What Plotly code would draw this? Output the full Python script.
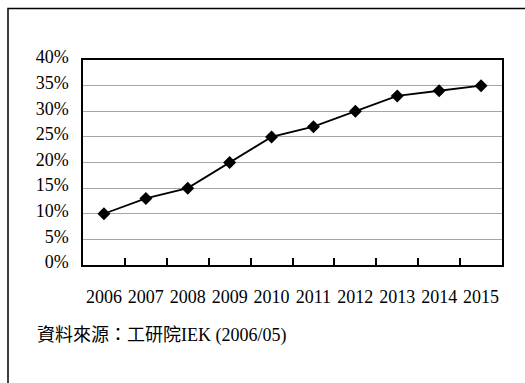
import plotly.graph_objects as go

years = ["2006", "2007", "2008", "2009", "2010", "2011", "2012", "2013", "2014", "2015"]
share = [0.10, 0.13, 0.15, 0.20, 0.25, 0.27, 0.30, 0.33, 0.34, 0.35]
source_text = "資料來源：工研院IEK (2006/05)"

W, H = 525, 383
L, R, T, B = 83, 23, 60, 118
pw, ph = W - L - R, H - T - B

def px_to_paper_x(px):
    return (px - L) / pw

def px_to_paper_y(py):
    return (H - B - py) / ph

fig = go.Figure()
fig.add_trace(go.Scatter(
    x=years, y=share, mode="lines+markers",
    line=dict(color="black", width=1.8),
    marker=dict(symbol="diamond", size=10, color="black"),
    cliponaxis=False,
))

serif = "Liberation Serif"
fig.update_layout(
    width=W, height=H,
    margin=dict(l=L, r=R, t=T, b=B, pad=0),
    paper_bgcolor="white", plot_bgcolor="white",
    showlegend=False,
    font=dict(family=serif, size=18, color="black"),
    xaxis=dict(
        type="category", range=[-0.5, len(years) - 0.5],
        tickson="boundaries", ticks="inside", ticklen=7, tickcolor="black", tickwidth=1.5,
        showgrid=False, showline=True, linecolor="black", linewidth=1.5, mirror=True,
        ticklabelstandoff=15, zeroline=False, tickangle=0,
        tickfont=dict(family=serif, size=18),
    ),
    yaxis=dict(
        range=[0, 0.4], dtick=0.05, tick0=0, tickformat=".0%",
        showgrid=True, gridcolor="#a6a6a6", gridwidth=1,
        showline=True, linecolor="black", linewidth=1.5, mirror=True,
        ticks="", ticklabelstandoff=9, ticklabelshift=-3, zeroline=False,
        tickfont=dict(family=serif, size=18),
    ),
)

# outer frame
fig.add_shape(type="rect", xref="paper", yref="paper",
              x0=px_to_paper_x(8), x1=px_to_paper_x(540),
              y0=px_to_paper_y(400), y1=px_to_paper_y(8.5),
              line=dict(color="black", width=1.5), fillcolor="rgba(0,0,0,0)", layer="below")

fig.add_annotation(
    text=source_text, xref="paper", yref="paper",
    x=px_to_paper_x(35), y=px_to_paper_y(335),
    xanchor="left", yanchor="middle", showarrow=False,
    font=dict(family="Liberation Serif, Noto Sans CJK TC", size=18, color="black"),
)

fig.write_html("out.html")
